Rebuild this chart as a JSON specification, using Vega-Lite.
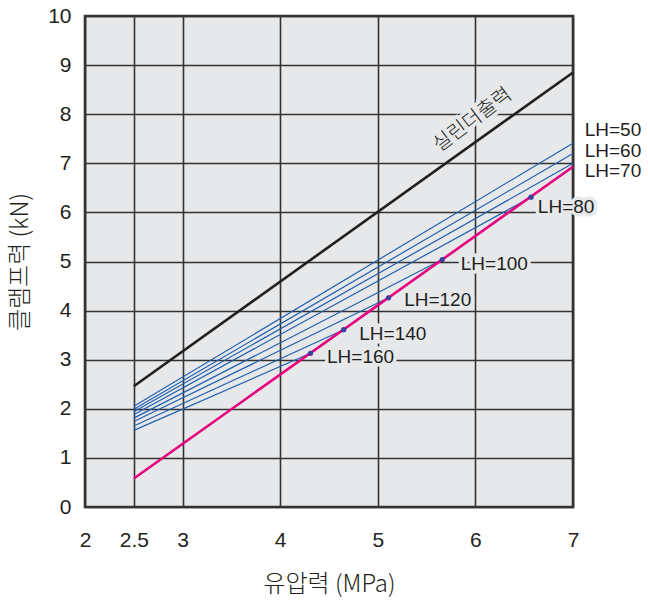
{
  "$schema": "https://vega.github.io/schema/vega-lite/v6.json",
  "width": 488,
  "height": 491,
  "autosize": {"type": "none"},
  "padding": {"left": 85, "top": 16, "right": 75, "bottom": 94},
  "background": "white",
  "config": {
    "view": {"fill": "#e7e8ea", "stroke": "#333333", "strokeWidth": 2.6},
    "axis": {
      "grid": true, "gridColor": "#333333", "gridWidth": 1.6, "gridOpacity": 1,
      "ticks": false, "domain": false,
      "labelFont": "Liberation Sans", "labelFontSize": 21, "labelColor": "#231f20",
      "titleFont": "Noto Sans CJK KR", "titleFontSize": 24, "titleFontWeight": 300, "titleColor": "#231f20"
    }
  },
  "datasets": {
    "lines": [
      {"series": "실린더출력", "kind": "cylinder", "x": 2.5, "y": 2.46},
      {"series": "실린더출력", "kind": "cylinder", "x": 7, "y": 8.85},
      {"series": "clamp", "kind": "clamp", "x": 2.5, "y": 0.58},
      {"series": "clamp", "kind": "clamp", "x": 7, "y": 6.93},
      {"series": "LH=50", "kind": "LH", "x": 2.5, "y": 2.05},
      {"series": "LH=50", "kind": "LH", "x": 7, "y": 7.41},
      {"series": "LH=60", "kind": "LH", "x": 2.5, "y": 1.99},
      {"series": "LH=60", "kind": "LH", "x": 7, "y": 7.2},
      {"series": "LH=70", "kind": "LH", "x": 2.5, "y": 1.94},
      {"series": "LH=70", "kind": "LH", "x": 7, "y": 7.0},
      {"series": "LH=80", "kind": "LH", "x": 2.5, "y": 1.88},
      {"series": "LH=80", "kind": "LH", "x": 6.57, "y": 6.31},
      {"series": "LH=100", "kind": "LH", "x": 2.5, "y": 1.81},
      {"series": "LH=100", "kind": "LH", "x": 5.66, "y": 5.04},
      {"series": "LH=120", "kind": "LH", "x": 2.5, "y": 1.74},
      {"series": "LH=120", "kind": "LH", "x": 5.11, "y": 4.26},
      {"series": "LH=140", "kind": "LH", "x": 2.5, "y": 1.65},
      {"series": "LH=140", "kind": "LH", "x": 4.65, "y": 3.61},
      {"series": "LH=160", "kind": "LH", "x": 2.5, "y": 1.56},
      {"series": "LH=160", "kind": "LH", "x": 4.31, "y": 3.13}
    ],
    "dots": [
      {"series": "LH=80", "x": 6.57, "y": 6.31},
      {"series": "LH=100", "x": 5.66, "y": 5.04},
      {"series": "LH=120", "x": 5.11, "y": 4.26},
      {"series": "LH=140", "x": 4.65, "y": 3.61},
      {"series": "LH=160", "x": 4.31, "y": 3.13}
    ],
    "labels": [
      {"label": "LH=50", "inside": false, "x": 7.12, "y": 7.67},
      {"label": "LH=60", "inside": false, "x": 7.12, "y": 7.26},
      {"label": "LH=70", "inside": false, "x": 7.12, "y": 6.85},
      {"label": "LH=80", "inside": true, "x": 6.64, "y": 6.12},
      {"label": "LH=100", "inside": true, "x": 5.85, "y": 4.95},
      {"label": "LH=120", "inside": true, "x": 5.27, "y": 4.22},
      {"label": "LH=140", "inside": true, "x": 4.81, "y": 3.53},
      {"label": "LH=160", "inside": true, "x": 4.48, "y": 3.06}
    ],
    "rotlabel": [
      {"label": "실린더출력", "x": 5.97, "y": 7.88}
    ]
  },
  "encoding": {
    "x": {
      "type": "quantitative",
      "scale": {"domain": [2, 7], "nice": false, "zero": false},
      "axis": {"values": [2, 2.5, 3, 4, 5, 6, 7], "format": ".1~f", "labelPadding": 22, "title": "유압력 (MPa)", "titlePadding": 22, "labelFlush": false}
    },
    "y": {
      "type": "quantitative",
      "scale": {"domain": [0, 10], "nice": false},
      "axis": {"values": [0, 1, 2, 3, 4, 5, 6, 7, 8, 9, 10], "format": ".1~f", "labelPadding": 14, "title": "클램프력 (kN)", "titlePadding": 15, "labelFlush": false}
    }
  },
  "layer": [
    {
      "data": {"name": "labels"},
      "transform": [{"filter": "datum.inside"}],
      "mark": {"type": "text", "align": "left", "baseline": "middle", "font": "Liberation Sans", "fontSize": 19, "fill": "#e7e8ea", "stroke": "#e7e8ea", "strokeWidth": 7},
      "encoding": {"x": {"field": "x"}, "y": {"field": "y"}, "text": {"field": "label"}}
    },
    {
      "data": {"name": "rotlabel"},
      "mark": {"type": "text", "align": "center", "baseline": "middle", "font": "Noto Sans CJK KR", "fontWeight": 300, "fontSize": 20, "angle": -37, "fill": "#e7e8ea", "stroke": "#e7e8ea", "strokeWidth": 7},
      "encoding": {"x": {"field": "x"}, "y": {"field": "y"}, "text": {"field": "label"}}
    },
    {
      "data": {"name": "lines"},
      "transform": [{"filter": "datum.kind === 'LH'"}],
      "mark": {"type": "line", "color": "#1f5fb0", "strokeWidth": 1.2},
      "encoding": {"x": {"field": "x"}, "y": {"field": "y"}, "detail": {"field": "series"}}
    },
    {
      "data": {"name": "lines"},
      "transform": [{"filter": "datum.kind === 'cylinder'"}],
      "mark": {"type": "line", "color": "#231f20", "strokeWidth": 2.6},
      "encoding": {"x": {"field": "x"}, "y": {"field": "y"}, "detail": {"field": "series"}}
    },
    {
      "data": {"name": "lines"},
      "transform": [{"filter": "datum.kind === 'clamp'"}],
      "mark": {"type": "line", "color": "#e6007e", "strokeWidth": 2.6},
      "encoding": {"x": {"field": "x"}, "y": {"field": "y"}, "detail": {"field": "series"}}
    },
    {
      "data": {"name": "dots"},
      "mark": {"type": "circle", "color": "#3b3f9e", "size": 28, "opacity": 1},
      "encoding": {"x": {"field": "x"}, "y": {"field": "y"}}
    },
    {
      "data": {"name": "labels"},
      "mark": {"type": "text", "align": "left", "baseline": "middle", "font": "Liberation Sans", "fontSize": 19, "fill": "#231f20"},
      "encoding": {"x": {"field": "x"}, "y": {"field": "y"}, "text": {"field": "label"}}
    },
    {
      "data": {"name": "rotlabel"},
      "mark": {"type": "text", "align": "center", "baseline": "middle", "font": "Noto Sans CJK KR", "fontWeight": 300, "fontSize": 20, "angle": -37, "fill": "#231f20"},
      "encoding": {"x": {"field": "x"}, "y": {"field": "y"}, "text": {"field": "label"}}
    }
  ]
}
